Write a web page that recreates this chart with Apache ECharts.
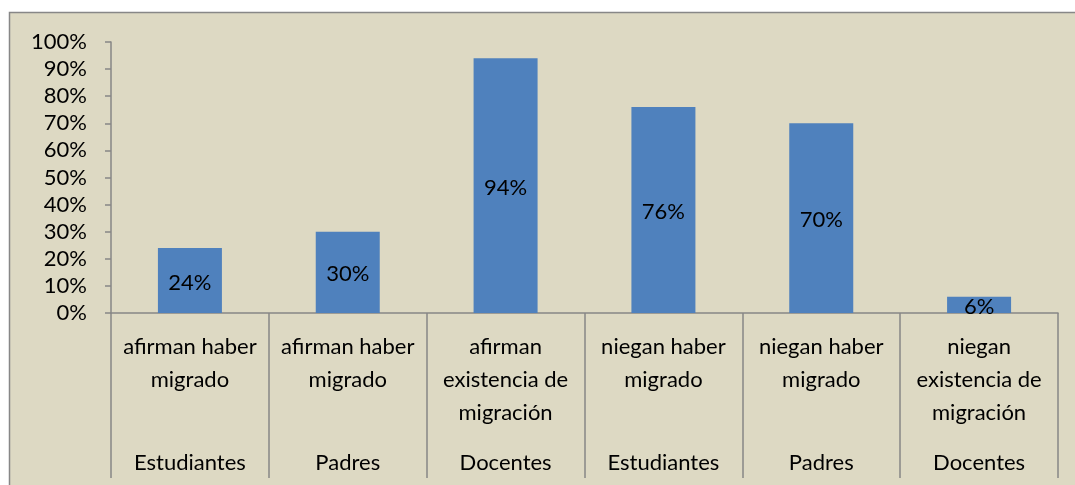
<!DOCTYPE html>
<html><head><meta charset="utf-8">
<script src="https://cdn.jsdelivr.net/npm/echarts@6/dist/echarts.min.js"></script>
<style>html,body{margin:0;padding:0;background:#fff}#c{width:1075px;height:485px}</style>
</head><body><div id="c"></div>
<script>
var categories = ['afirman haber\nmigrado','afirman haber\nmigrado','afirman\nexistencia de\nmigración','niegan haber\nmigrado','niegan haber\nmigrado','niegan\nexistencia de\nmigración'];
var groups = ['Estudiantes','Padres','Docentes','Estudiantes','Padres','Docentes'];
var values = [24, 30, 94, 76, 70, 6];
var yTicks = {min: 0, max: 100, interval: 10};

var FONT = 'Lato';
var FS = 22;
var chart = echarts.init(document.getElementById('c'));
chart.setOption({
  animation: false,
  backgroundColor: '#fff',
  graphic: [{type:'rect', z:-10, shape:{x:9.5,y:12.5,width:1080,height:490}, style:{fill:'#DDD9C3', stroke:'#878787', lineWidth:1.5}}],
  grid: {left: 111, right: 17, top: 42, bottom: 172},
  xAxis: [{
    type: 'category', data: categories, position: 'bottom',
    axisLine: {lineStyle: {color: '#868686', width: 1.5}},
    axisTick: {show: true, alignWithLabel: false, length: 165, lineStyle: {color: '#868686', width: 1.5}},
    axisLabel: {interval: 0, margin: 17, color: '#000', fontFamily: FONT, fontSize: FS, lineHeight: 33, align: 'center'}
  },{
    type: 'category', data: groups, position: 'bottom',
    axisLine: {show: false}, axisTick: {show: false},
    axisLabel: {interval: 0, margin: 133, color: '#000', fontFamily: FONT, fontSize: FS, lineHeight: 33}
  }],
  yAxis: {
    type: 'value', min: yTicks.min, max: yTicks.max, interval: yTicks.interval,
    axisLine: {show: true, lineStyle: {color: '#868686', width: 1.5}},
    axisTick: {show: true, length: 6, lineStyle: {color: '#868686', width: 1.5}},
    splitLine: {show: false},
    axisLabel: {formatter: '{value}%', margin: 24, color: '#000', fontFamily: FONT, fontSize: FS}
  },
  series: [{
    type: 'bar', data: values, barWidth: 64,
    itemStyle: {color: '#4F81BD'},
    label: {show: true, position: 'inside', formatter: '{c}%', color: '#000', fontFamily: FONT, fontSize: FS, offset: [0, 2]}
  }]
});
</script></body></html>
